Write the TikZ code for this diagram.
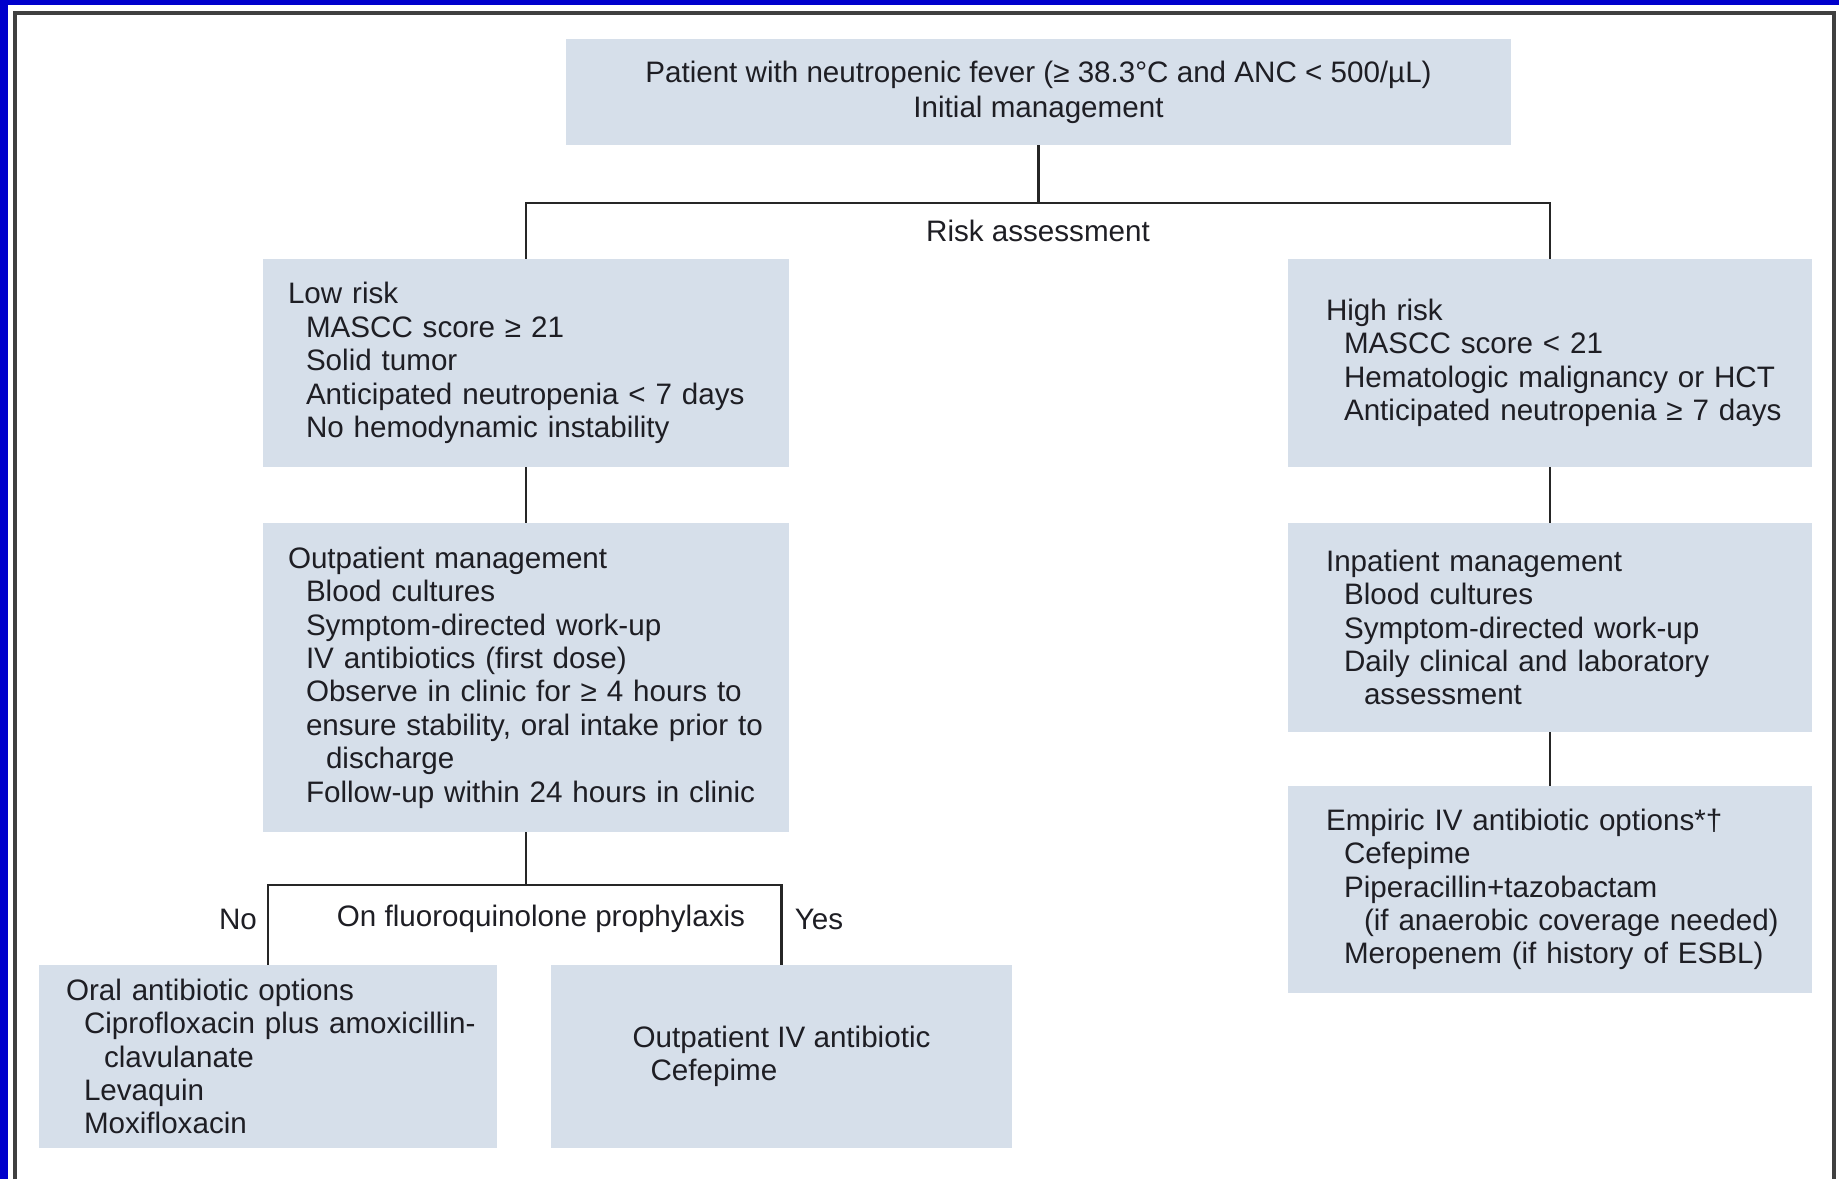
\documentclass[tikz,border=0pt]{standalone}
\usepackage{fontspec}
\setmainfont{Liberation Sans}
\usetikzlibrary{positioning}
\definecolor{boxfill}{RGB}{214,223,234}
\definecolor{edgeblue}{RGB}{0,0,204}
\definecolor{txtgray}{RGB}{30,30,36}
\newlength{\boxin}
\newcommand{\lvA}{\hspace*{\boxin}}
\newcommand{\lvB}{\hspace*{\dimexpr\boxin+9pt\relax}}
\newcommand{\lvC}{\hspace*{\dimexpr\boxin+19pt\relax}}
\tikzset{
  box/.style={fill=boxfill,text=txtgray,font={\fontsize{14.8}{16.7}\selectfont},align=left,inner xsep=0pt,inner ysep=2pt},
  lbox/.style={box,text width=263pt,execute at begin node={\setlength{\boxin}{12.5pt}}},
  rbox/.style={box,text width=262pt,execute at begin node={\setlength{\boxin}{19pt}}},
  lbl/.style={text=txtgray,font={\fontsize{14.8}{16.7}\selectfont}},
  conn/.style={draw=black!85,line width=1.2pt},
  frame/.style={draw=black!75,line width=1.6pt}
}

\begin{document}
\begin{tikzpicture}[x=0.5pt,y=-0.5pt]
  \useasboundingbox (0,0) rectangle (1839,1179);
  % Page edge and frame
  \fill[edgeblue] (0,0) rectangle (8,1179);
  \fill[edgeblue] (0,0) rectangle (1839,5);
  \draw[frame] (15,1179) -- (15,13) -- (1834,13) -- (1834,1179);

  % Initial management
  \node[box,align=center,minimum width=472.5pt,minimum height=53pt,font={\fontsize{14.8}{17.5}\selectfont}] (init) at (1038.5,92)
    {Patient with neutropenic fever (≥ 38.3°C and ANC < 500/µL)\\Initial management};

  % Risk groups
  \node[lbox,minimum height=104pt] (lowrisk) at (526,363)
    {\lvA Low risk\\ \lvB MASCC score ≥ 21\\ \lvB Solid tumor\\ \lvB Anticipated neutropenia < 7 days\\ \lvB No hemodynamic instability};
  \node[rbox,minimum height=104pt] (highrisk) at (1550,363)
    {\lvA High risk\\ \lvB MASCC score < 21\\ \lvB Hematologic malignancy or HCT\\ \lvB Anticipated neutropenia ≥ 7 days};

  % Management
  \node[lbox,minimum height=154.5pt] (outpt) at (526,677.5)
    {\lvA Outpatient management\\ \lvB Blood cultures\\ \lvB Symptom-directed work-up\\ \lvB IV antibiotics (first dose)\\ \lvB Observe in clinic for ≥ 4 hours to\\ \lvB ensure stability, oral intake prior to\\ \lvC discharge\\ \lvB Follow-up within 24 hours in clinic};
  \node[rbox,minimum height=104.5pt] (inpt) at (1550,627.5)
    {\lvA Inpatient management\\ \lvB Blood cultures\\ \lvB Symptom-directed work-up\\ \lvB Daily clinical and laboratory\\ \lvC assessment};
  \node[rbox,minimum height=103.5pt] (empiric) at (1550,889.5)
    {\lvA Empiric IV antibiotic options*†\\ \lvB Cefepime\\ \lvB Piperacillin+tazobactam\\ \lvC (if anaerobic coverage needed)\\ \lvB Meropenem (if history of ESBL)};

  % Outpatient antibiotics
  \node[box,text width=229pt,minimum height=91.5pt,execute at begin node={\setlength{\boxin}{13.5pt}}] (oral) at (268,1056.5)
    {\lvA Oral antibiotic options\\ \lvB Ciprofloxacin plus amoxicillin-\\ \lvC clavulanate\\ \lvB Levaquin\\ \lvB Moxifloxacin};
  \node[box,minimum width=230.5pt,minimum height=91.5pt] (ivopt) at (781.5,1056.5)
    {Outpatient IV antibiotic\\ \lvB Cefepime};

  % Connectors
  \coordinate (riskbar) at (1038.5,203);
  \draw[conn] (init.south) -- (riskbar);
  \draw[conn] (lowrisk.north) |- (riskbar) -| (highrisk.north);
  \draw[conn] (lowrisk) -- (outpt);
  \draw[conn] (highrisk) -- (inpt);
  \draw[conn] (inpt) -- (empiric);
  \coordinate (fqbar) at (526,885);
  \draw[conn] (outpt.south) -- (fqbar);
  \draw[conn] (oral.north) |- (fqbar) -| (ivopt.north);

  % Labels
  \node[lbl] (riskq) at (1038,231) {Risk assessment};
  \node[lbl] (fqq) at (541,919) {On fluoroquinolone prophylaxis};
  \node[lbl] (nolbl) at (238,919) {No};
  \node[lbl] (yeslbl) at (819,919) {Yes};
\end{tikzpicture}
\end{document}
